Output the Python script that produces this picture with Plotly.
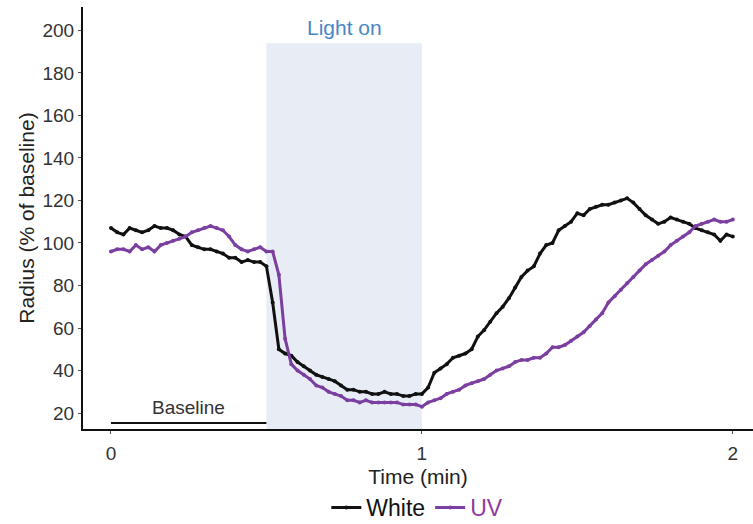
import plotly.graph_objects as go

# ---- data ----
time_min = [round(i * 0.02, 2) for i in range(101)]

white = [107, 105, 104, 107, 106, 105, 106, 108, 107, 107,
         106, 104, 103, 99, 98, 97, 97, 96, 95, 93,
         93, 91, 92, 91, 91, 89, 72, 50, 48, 47,
         44, 42, 40, 38, 37, 36, 35, 33, 31, 31,
         30, 30, 29, 29, 30, 29, 29, 28, 28, 29,
         29, 32, 39, 41, 43, 46, 47, 48, 50, 56,
         59, 63, 67, 70, 74, 79, 84, 87, 89, 95,
         99, 100, 106, 108, 110, 114, 113, 116, 117, 118,
         118, 119, 120, 121, 119, 116, 113, 111, 109, 110,
         112, 111, 110, 109, 107, 106, 105, 104, 101, 104,
         103]

uv = [96, 97, 97, 96, 99, 97, 98, 96, 99, 100,
      101, 102, 103, 105, 106, 107, 108, 107, 106, 103,
      99, 97, 96, 97, 98, 96, 96, 85, 55, 43,
      40, 38, 36, 33, 32, 30, 29, 28, 26, 26,
      25, 26, 25, 25, 25, 25, 25, 24, 24, 24,
      23, 25, 26, 27, 29, 30, 31, 33, 34, 35,
      36, 38, 40, 41, 42, 44, 45, 45, 46, 46,
      48, 51, 51, 52, 54, 56, 58, 61, 64, 67,
      72, 75, 78, 81, 84, 87, 90, 92, 94, 96,
      99, 101, 103, 105, 108, 109, 110, 111, 110, 110,
      111]

x_ticks = [0, 1, 2]
y_ticks = [20, 40, 60, 80, 100, 120, 140, 160, 180, 200]
light_on = [0.5, 1.0]
baseline = [0.0, 0.5]

BLACK = "#111111"
PURPLE = "#7b3fa0"
FONT = "Liberation Sans, Arial, sans-serif"

fig = go.Figure()
fig.add_trace(go.Scatter(
    x=time_min, y=white, name="White", mode="lines+markers",
    line=dict(color=BLACK, width=3), marker=dict(color=BLACK, size=4)))
fig.add_trace(go.Scatter(
    x=time_min, y=uv, name="<span style='color:#8e3a9e'>UV</span>",
    mode="lines+markers",
    line=dict(color=PURPLE, width=3), marker=dict(color=PURPLE, size=4)))

Y_MIN, Y_MAX = 12.5, 211
fig.add_shape(type="rect", x0=light_on[0], x1=light_on[1], y0=Y_MIN, y1=194,
              fillcolor="#e8ecf5", line=dict(width=0), layer="below")
fig.add_shape(type="line", x0=baseline[0], x1=baseline[1], y0=15.3, y1=15.3,
              line=dict(color=BLACK, width=2))
fig.add_annotation(x=sum(baseline) / 2, y=22.8, text="Baseline", showarrow=False,
                   font=dict(family=FONT, size=19, color="#333333"))
fig.add_annotation(x=sum(light_on) / 2, y=201.5, text="Light on", showarrow=False,
                   font=dict(family=FONT, size=21, color="#4a86c5"))

fig.update_layout(
    width=753, height=524,
    margin=dict(l=83, r=0, t=7, b=95, autoexpand=False),
    paper_bgcolor="white", plot_bgcolor="white",
    font=dict(family=FONT, color="#333333"),
    showlegend=True,
    legend=dict(orientation="h", x=0.499, xanchor="center", y=-0.186, yanchor="middle",
                font=dict(family=FONT, size=23, color="#111111"),
                itemwidth=30, tracegroupgap=0),
)
fig.update_xaxes(
    range=[-0.09, 2.065], tickvals=x_ticks, ticktext=[str(v) for v in x_ticks],
    showgrid=False, zeroline=False, showline=True, linecolor=BLACK, linewidth=2,
    ticks="outside", ticklen=3, tickcolor="#555555", tickwidth=1, ticklabelstandoff=3,
    tickfont=dict(family=FONT, size=19, color="#333333"), automargin=False,
    title=dict(text="Time (min)", font=dict(family=FONT, size=21, color="#222222"), standoff=7),
)
fig.update_yaxes(
    range=[Y_MIN, Y_MAX], tickvals=y_ticks,
    showgrid=False, zeroline=False, showline=True, linecolor=BLACK, linewidth=2,
    ticks="outside", ticklen=3, tickcolor="#555555", tickwidth=1,
    tickfont=dict(family=FONT, size=19, color="#333333"), automargin=False,
    title=dict(text="Radius (% of baseline)", font=dict(family=FONT, size=21, color="#222222"), standoff=2),
)

fig.write_html("out.html", config={"displayModeBar": False},
               post_script="document.body.style.margin='0';")
